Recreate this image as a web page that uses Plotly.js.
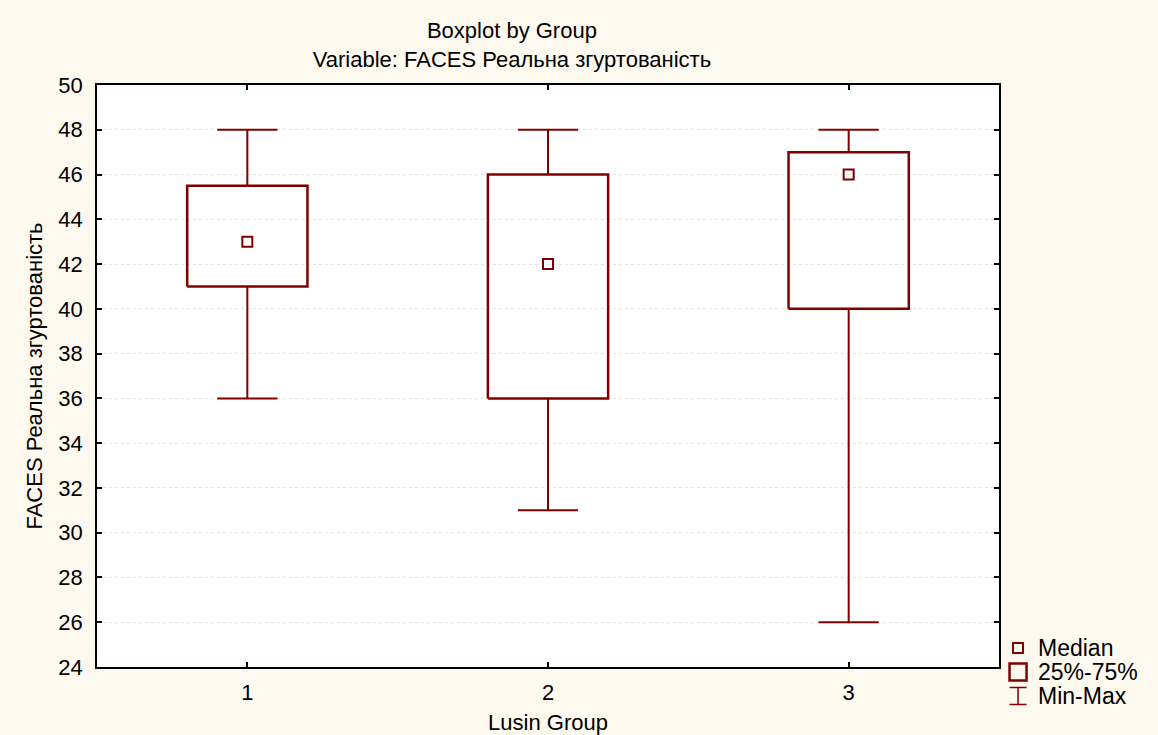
<!DOCTYPE html>
<html>
<head>
<meta charset="utf-8">
<script src="https://cdn.plot.ly/plotly-3.0.1.min.js"></script>
<style>html,body{margin:0;padding:0;background:#FDF9EF;}#chart{width:1158px;height:735px;}</style>
</head>
<body>
<div id="chart"></div>
<script>
// Data
var groups = ['1', '2', '3'];
var groupPos = [1, 2, 3];
var minVals = [36, 31, 26];
var maxVals = [48, 48, 48];
var q1Vals = [41, 36, 40];
var q3Vals = [45.5, 46, 47];
var medianVals = [43, 42, 46];
var yTicks = [24, 26, 28, 30, 32, 34, 36, 38, 40, 42, 44, 46, 48, 50];
var legendLabels = ['Median', '25%-75%', 'Min-Max'];

var col = '#800000';
var boxHalf = 0.2, capHalf = 0.1;

var wx = [], wy = [], bx = [], by = [];
for (var i = 0; i < groups.length; i++) {
  var p = groupPos[i];
  // upper whisker + cap
  wx.push(p, p, null, p - capHalf, p + capHalf, null);
  wy.push(q3Vals[i], maxVals[i], null, maxVals[i], maxVals[i], null);
  // lower whisker + cap
  wx.push(p, p, null, p - capHalf, p + capHalf, null);
  wy.push(q1Vals[i], minVals[i], null, minVals[i], minVals[i], null);
  // box
  bx.push(p - boxHalf, p + boxHalf, p + boxHalf, p - boxHalf, p - boxHalf, null);
  by.push(q1Vals[i], q1Vals[i], q3Vals[i], q3Vals[i], q1Vals[i], null);
}

var traces = [
  {x: wx, y: wy, mode: 'lines', line: {color: col, width: 2}, showlegend: false, hoverinfo: 'skip'},
  {x: bx, y: by, mode: 'lines', line: {color: col, width: 2.5}, showlegend: false, hoverinfo: 'skip'},
  {x: groupPos, y: medianVals, mode: 'markers', name: 'Median', showlegend: false,
   marker: {symbol: 'square-open', size: 10, color: col, line: {color: col, width: 2}}}
];

// Custom legend (key) drawn in paper coordinates, to the right of the plot
var symX = 1.0211;               // symbol centre
var txtX = 1.041;                // text left edge
var rowY = [0.0326, -0.0086, -0.0498];
function pxShape(type, ya, x0, x1, y0, y1, w) {
  return {type: type, xref: 'paper', yref: 'paper',
          xsizemode: 'pixel', ysizemode: 'pixel', xanchor: symX, yanchor: ya,
          x0: x0, x1: x1, y0: y0, y1: y1,
          line: {color: col, width: w}, fillcolor: 'rgba(0,0,0,0)'};
}
var shapes = [
  pxShape('rect', rowY[0], -5, 5, -5, 5, 2),
  pxShape('rect', rowY[1], -8.5, 8.5, -8.5, 8.5, 2.5),
  pxShape('line', rowY[2], 0, 0, -8.5, 8.5, 1.5),
  pxShape('line', rowY[2], -8.5, 8.5, 8.5, 8.5, 1.5),
  pxShape('line', rowY[2], -8.5, 8.5, -8.5, -8.5, 1.5)
];

var fontFam = '"Liberation Sans", Arial, sans-serif';
var annotations = legendLabels.map(function (t, k) {
  return {text: t, xref: 'paper', yref: 'paper', x: txtX, y: rowY[k],
          xanchor: 'left', yanchor: 'middle', showarrow: false,
          font: {family: fontFam, size: 23, color: '#000'}};
});

var layout = {
  width: 1158, height: 735,
  paper_bgcolor: '#FDF9EF',
  plot_bgcolor: '#FFFFFF',
  margin: {l: 97, r: 159, t: 85, b: 68},
  font: {family: fontFam, size: 22, color: '#000'},
  showlegend: false,
  title: {text: 'Boxplot by Group<br>Variable: FACES Реальна згуртованість',
          x: 0.46, xref: 'paper', xanchor: 'center',
          y: 0.948, yref: 'container', yanchor: 'middle',
          font: {family: fontFam, size: 22, color: '#000'}},
  xaxis: {
    range: [0.5, 3.5], tickvals: groupPos, ticktext: groups,
    showgrid: false, zeroline: false,
    showline: true, linecolor: '#000', linewidth: 1.5, mirror: 'ticks',
    ticks: 'inside', ticklen: 5, tickcolor: '#000', tickwidth: 1.5,
    ticklabelstandoff: 5,
    tickfont: {size: 22},
    title: {text: 'Lusin Group', standoff: 10, font: {size: 22}}
  },
  yaxis: {
    range: [24, 50], tickvals: yTicks,
    showgrid: true, gridcolor: '#e2e2e2', griddash: 'dot', gridwidth: 1,
    zeroline: false,
    showline: true, linecolor: '#000', linewidth: 1.5, mirror: 'ticks',
    ticks: 'inside', ticklen: 5, tickcolor: '#000', tickwidth: 1.5,
    ticklabelstandoff: 8,
    tickfont: {size: 22},
    title: {text: 'FACES Реальна згуртованість', standoff: 10, font: {size: 22}}
  },
  shapes: shapes,
  annotations: annotations
};

Plotly.newPlot('chart', traces, layout, {displayModeBar: false});
</script>
</body>
</html>
